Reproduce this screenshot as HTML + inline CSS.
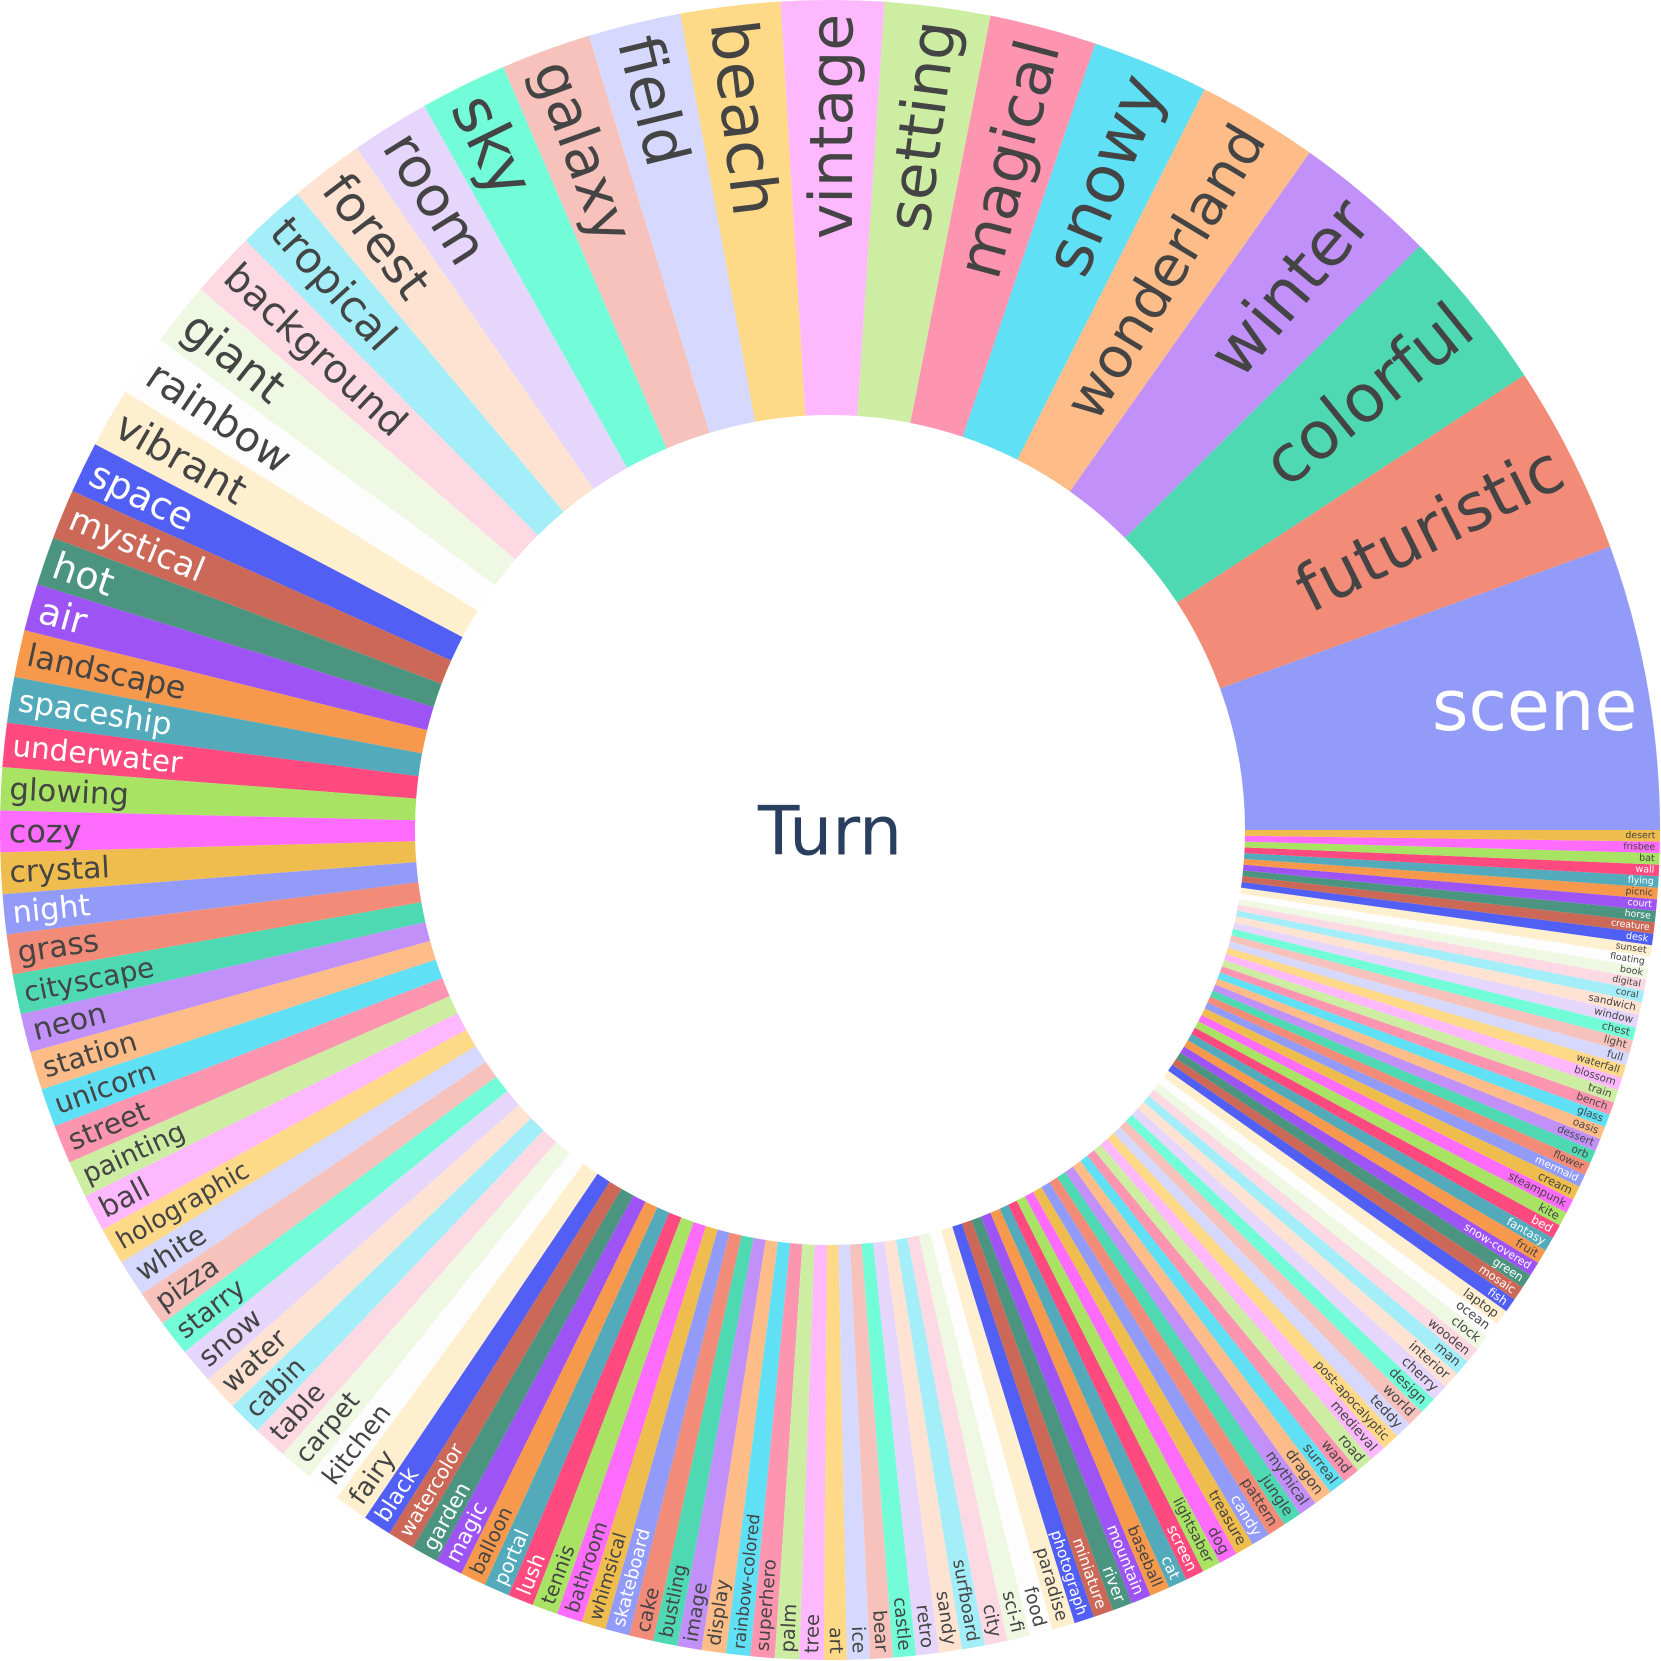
<!DOCTYPE html>
<html><head><meta charset="utf-8"><style>
html,body{margin:0;padding:0;background:#fff;}
svg{display:block;font-family:"DejaVu Sans","Liberation Sans",sans-serif;}
</style></head><body>
<svg id="chart" width="1661" height="1661" viewBox="0 0 1661 1661">
<g id="slices"></g>
<g id="labels"></g>
<text x="830" y="832" text-anchor="middle" dominant-baseline="central" font-size="68" fill="#2a3f5f">Turn</text>
</svg>
<script>
const categories = ["scene","futuristic","colorful","winter","wonderland","snowy","magical","setting","vintage","beach","field","galaxy","sky","room","forest","tropical","background","giant","rainbow","vibrant",
"space","mystical","hot","air","landscape","spaceship","underwater","glowing",
"cozy","crystal","night","grass","cityscape","neon","station","unicorn","street","painting","ball","holographic","white","pizza","starry","snow","water","cabin","table","carpet","kitchen","fairy",
"black","watercolor","garden","magic","balloon","portal","lush","tennis","bathroom","whimsical","skateboard","cake","bustling","image","display","rainbow-colored","superhero","palm","tree","art","ice","bear","castle","retro","sandy","surfboard","city","sci-fi","food","paradise",
"photograph","miniature","river","mountain","baseball","cat","screen","lightsaber","dog","treasure","candy","pattern","jungle","mythical","dragon","surreal","wand","road","medieval","post-apocalyptic","teddy","world","design","cherry","interior","man","wooden","clock","ocean","laptop",
"fish","mosaic","green","snow-covered","fruit","fantasy","bed","kite","steampunk","cream","mermaid","flower","orb","dessert","oasis","glass","bench","train","blossom","waterfall","full","light","chest","window","sandwich","coral","digital","book","floating","sunset","desk","creature","horse","court","picnic","flying","wall","bat","frisbee","desert"];
const values = [20,13.3,11.5,10,8.5,8.2,7.5,7.4,7.2,7.0,6.5,6.3,6.1,5.5,5.2,4.8,4.6,4.5,4.3,4.2,
3.6,3.5,3.4,3.3,3.3,3.2,3.1,3.0,
2.9,2.9,2.8,2.8,2.8,2.7,2.7,2.7,2.7,2.6,2.6,2.6,2.6,2.5,2.5,2.5,2.5,2.4,2.4,2.4,2.4,2.4,
2.0,1.9,1.9,1.9,1.8,1.8,1.8,1.8,1.8,1.7,1.7,1.7,1.7,1.7,1.7,1.7,1.7,1.7,1.7,1.6,1.6,1.6,1.6,1.6,1.6,1.6,1.6,1.6,1.6,1.6,
1.4,1.4,1.4,1.4,1.4,1.3,1.3,1.3,1.3,1.3,1.3,1.3,1.3,1.3,1.3,1.2,1.2,1.2,1.2,1.2,1.2,1.2,1.2,1.2,1.2,1.1,1.1,1.1,1.1,1.1,
1.0,1.0,1.0,1.0,1.0,1.0,1.0,1.0,1.0,1.0,0.9,0.9,0.9,0.9,0.9,0.9,0.9,0.9,0.9,0.9,0.9,0.9,0.9,0.9,0.9,0.8,0.8,0.8,0.8,0.8,0.8,0.8,0.8,0.8,0.8,0.8,0.8,0.8,0.8,0.8];
const palette = ["#939bf9","#f28b77","#4fd9b3","#c190f9","#fdbc88","#5fe0f5","#fd95b1","#cdeda3","#feb8fe","#fed987","#d6d9fd","#f6c2bb","#72fdd8","#e7d6fc","#fee3d3","#a3eef8","#fdd9e3","#eff8e3","#fdfdfd","#feefcf","#525ff5","#cb6858","#4b9480","#9e54f4","#f6994c","#52aabb","#fe4a7e","#a8e364","#fe6cfd","#efbd4d"];
const whiteText = [0,20,21,22,23,25,26];

const NS="http://www.w3.org/2000/svg";
const cx=830, cy=830, R=830, R0=415;
const total = values.reduce((a,b)=>a+b,0);
function angleScale(v){ return v/total*2*Math.PI; }
function pt(r,a){ return [cx+r*Math.cos(a), cy-r*Math.sin(a)]; }
const gS=document.getElementById('slices'), gL=document.getElementById('labels');
let acc=0;
categories.forEach((name,i)=>{
  const a0=angleScale(acc), a1=angleScale(acc+values[i]); acc+=values[i];
  const [x0,y0]=pt(R,a0),[x1,y1]=pt(R,a1),[x2,y2]=pt(R0,a1),[x3,y3]=pt(R0,a0);
  const large=(a1-a0)>Math.PI?1:0;
  const p=document.createElementNS(NS,'path');
  p.setAttribute('d',`M${x0},${y0} A${R},${R} 0 ${large} 0 ${x1},${y1} L${x2},${y2} A${R0},${R0} 0 ${large} 1 ${x3},${y3} Z`);
  p.setAttribute('fill',palette[i%30]);
  
  
  gS.appendChild(p);
  const span=a1-a0, m=(a0+a1)/2, len=name.length;
  const t=document.createElementNS(NS,'text');
  t.textContent=name;
  t.setAttribute('dominant-baseline','central');
  t.setAttribute('fill', whiteText.includes(i%30)?'#ffffff':'#444444');
  
  
  if(i===0){
    const [tx,ty]=pt(R,m);
    t.setAttribute('x',tx-10); t.setAttribute('y',ty+20);
    t.setAttribute('font-size','70');
    t.setAttribute('text-anchor','end');
  } else {
    let fs=66, pad=0;
    for(let k=0;k<5;k++){
      pad=3+fs*0.18;
      const rin=R-pad-0.6*fs*len;
      fs=Math.min(66, 0.85*span*Math.max(rin,R0), (405-pad)/(0.6*len));
    }
    pad=3+fs*0.18;
    const md=m*180/Math.PI;
    const [tx,ty]=pt(R-pad,m);
    t.setAttribute('x',tx); t.setAttribute('y',ty);
    t.setAttribute('font-size',fs.toFixed(2));
    const flip = md>90 && md<270;
    t.setAttribute('text-anchor', flip?'start':'end');
    t.setAttribute('transform',`rotate(${flip?180-md:-md} ${tx} ${ty})`);
  }
  gL.appendChild(t);
});
</script>
</body></html>
